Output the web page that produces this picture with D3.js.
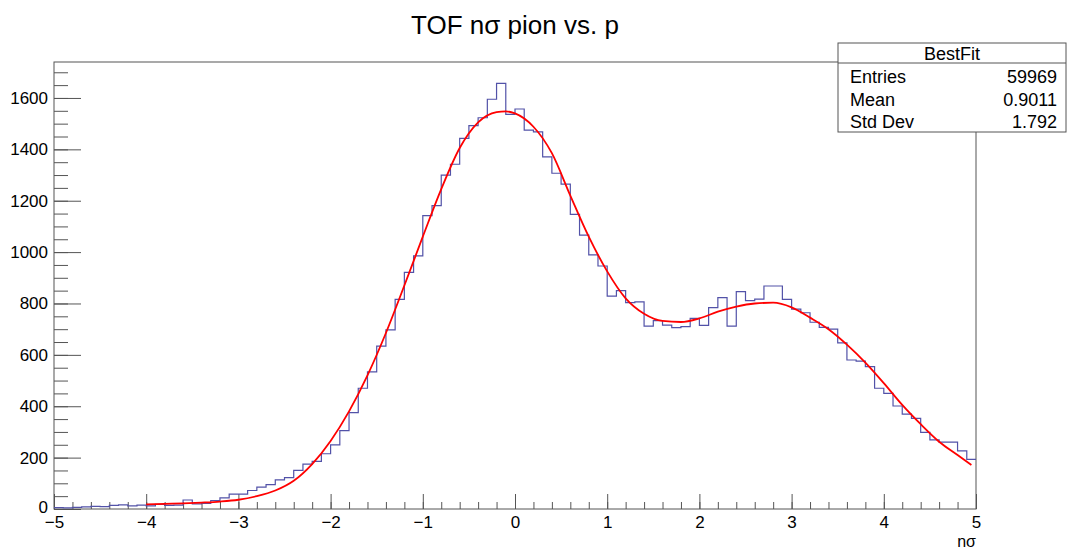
<!DOCTYPE html>
<html>
<head>
<meta charset="utf-8">
<script src="https://cdn.jsdelivr.net/npm/d3@7"></script>
<style>
  body { margin: 0; background: #fff; }
  text { font-family: "Liberation Sans", Arial, sans-serif; }
</style>
</head>
<body>
<div id="chart"></div>
<script>
const width = 1068,
    height = 551;

// histogram: 100 bins of width 0.1 from -5 to 5
const binLow = -5, binWidth = 0.1;
const counts = [
    5, 4, 6, 8, 10, 9, 14, 16, 12, 15,
    12, 18, 14, 15, 35, 20, 22, 33, 43, 58,
    58, 72, 85, 95, 113, 122, 150, 175, 185, 215,
    250, 305, 375, 470, 534, 634, 697, 816, 921, 985,
    1142, 1181, 1300, 1342, 1443, 1492, 1523, 1595, 1657, 1536,
    1557, 1475, 1468, 1371, 1307, 1265, 1147, 1066, 989, 946,
    829, 850, 803, 806, 712, 733, 716, 706, 710, 742,
    715, 784, 823, 712, 846, 811, 817, 868, 868, 816,
    778, 764, 727, 707, 700, 647, 580, 576, 554, 470,
    450, 401, 369, 353, 298, 269, 260, 260, 226, 193
];

// fit curve
const fitX = [-4.0, -3.8, -3.6, -3.4, -3.2, -3.0, -2.8, -2.6, -2.4, -2.2,
    -2.0, -1.8, -1.6, -1.4, -1.2, -1.0, -0.8, -0.6, -0.4, -0.2,
    -0.1, 0.0, 0.2, 0.4, 0.6, 0.8, 1.0, 1.2, 1.4, 1.6,
    1.8, 2.0, 2.2, 2.4, 2.6, 2.8, 3.0, 3.2, 3.4, 3.6,
    3.8, 4.0, 4.2, 4.4, 4.6, 4.8, 4.95];
const fitY = [18, 20, 22, 25, 29, 36, 50, 72, 110, 175,
    265, 380, 520, 685, 870, 1060, 1245, 1405, 1505, 1545,
    1548, 1540, 1488, 1385, 1220, 1060, 925, 820, 760, 732,
    728, 742, 768, 788, 800, 803, 785, 745, 700, 640,
    570, 490, 405, 330, 262, 210, 171];

const xTicks = [-5, -4, -3, -2, -1, 0, 1, 2, 3, 4, 5];
const yTicks = [0, 200, 400, 600, 800, 1000, 1200, 1400, 1600];

const statsTitle = "BestFit";
const statsLabels = ["Entries", "Mean", "Std Dev"];
const statsValues = ["59969", "0.9011", "1.792"];

const margin = {top: 62, right: 92, bottom: 42, left: 54};

let svg = d3.select('#chart').append('svg')
    .attr('width', width)
    .attr('height', height);

let x = d3.scaleLinear()
    .domain([-5, 5])
    .range([margin.left, width - margin.right]);

let y = d3.scaleLinear()
    .domain([0, 1740])
    .range([height - margin.bottom, margin.top]);

const axisColor = "#555";

// minor ticks first, then major with labels
let xMinor = svg.append("g")
    .attr("transform", `translate(0,${y(0)})`)
    .call(d3.axisBottom(x)
        .tickValues(d3.range(-50, 51, 2).map(d => d / 10))
        .tickSize(-7)
        .tickFormat(""));

let xMajor = svg.append("g")
    .attr("transform", `translate(0,${y(0)})`)
    .call(d3.axisBottom(x)
        .tickValues(xTicks)
        .tickSize(-15)
        .tickPadding(7)
        .tickFormat(d3.format("d")));

let yMinor = svg.append("g")
    .attr("transform", `translate(${x(-5)},0)`)
    .call(d3.axisLeft(y)
        .tickValues(d3.range(0, 1701, 50))
        .tickSize(-14)
        .tickFormat(""));

let yMajor = svg.append("g")
    .attr("transform", `translate(${x(-5)},0)`)
    .call(d3.axisLeft(y)
        .tickValues(yTicks)
        .tickSize(-27)
        .tickPadding(6)
        .tickFormat(d3.format("d")));

[xMinor, xMajor, yMinor, yMajor].forEach(g => {
    g.select(".domain").remove();
    g.selectAll("line").attr("stroke", axisColor);
    g.selectAll("text")
        .attr("fill", "#000")
        .style("font-size", "17px");
});

// the 0 label sits a bit higher so it clears the -5 below it
yMajor.selectAll(".tick text")
    .filter(d => d === 0)
    .attr("dy", "0.2em");

// frame
svg.append("rect")
    .attr("x", x(-5))
    .attr("y", margin.top)
    .attr("width", x(5) - x(-5))
    .attr("height", y(0) - margin.top)
    .attr("fill", "none")
    .attr("stroke", axisColor)
    .attr("stroke-width", 1);

// histogram as a step line
let histPoints = counts.map((c, i) => [binLow + i * binWidth, c]);
histPoints.push([binLow + counts.length * binWidth, counts[counts.length - 1]]);

let stepLine = d3.line()
    .x(d => x(d[0]))
    .y(d => y(d[1]))
    .curve(d3.curveStepAfter);

svg.append("path")
    .datum(histPoints)
    .attr("d", stepLine)
    .attr("fill", "none")
    .attr("stroke", "#5252a8")
    .attr("stroke-width", 1.2);

// fit
let fitLine = d3.line()
    .x((d, i) => x(fitX[i]))
    .y(d => y(d))
    .curve(d3.curveMonotoneX);

svg.append("path")
    .datum(fitY)
    .attr("d", fitLine)
    .attr("fill", "none")
    .attr("stroke", "#ff0000")
    .attr("stroke-width", 1.8);

// title and axis title
svg.append("text")
    .attr("x", 515)
    .attr("y", 34)
    .attr("text-anchor", "middle")
    .style("font-size", "26px")
    .text("TOF nσ pion vs. p");

svg.append("text")
    .attr("x", x(5))
    .attr("y", 547)
    .attr("text-anchor", "end")
    .style("font-size", "16px")
    .text("nσ");

// stats box
const box = {x: 838, y: 43, w: 228, h: 89, head: 20};
let stats = svg.append("g");

stats.append("rect")
    .attr("x", box.x)
    .attr("y", box.y)
    .attr("width", box.w)
    .attr("height", box.h)
    .attr("fill", "#fff")
    .attr("stroke", axisColor);

stats.append("line")
    .attr("x1", box.x).attr("x2", box.x + box.w)
    .attr("y1", box.y + box.head).attr("y2", box.y + box.head)
    .attr("stroke", axisColor);

stats.append("text")
    .attr("x", box.x + box.w / 2)
    .attr("y", box.y + 17)
    .attr("text-anchor", "middle")
    .style("font-size", "18px")
    .text(statsTitle);

statsLabels.forEach((label, i) => {
    let ty = box.y + 40 + i * 22.5;
    stats.append("text")
        .attr("x", box.x + 12)
        .attr("y", ty)
        .style("font-size", "18px")
        .text(label);
    stats.append("text")
        .attr("x", box.x + box.w - 9)
        .attr("y", ty)
        .attr("text-anchor", "end")
        .style("font-size", "18px")
        .text(statsValues[i]);
});
</script>
</body>
</html>
